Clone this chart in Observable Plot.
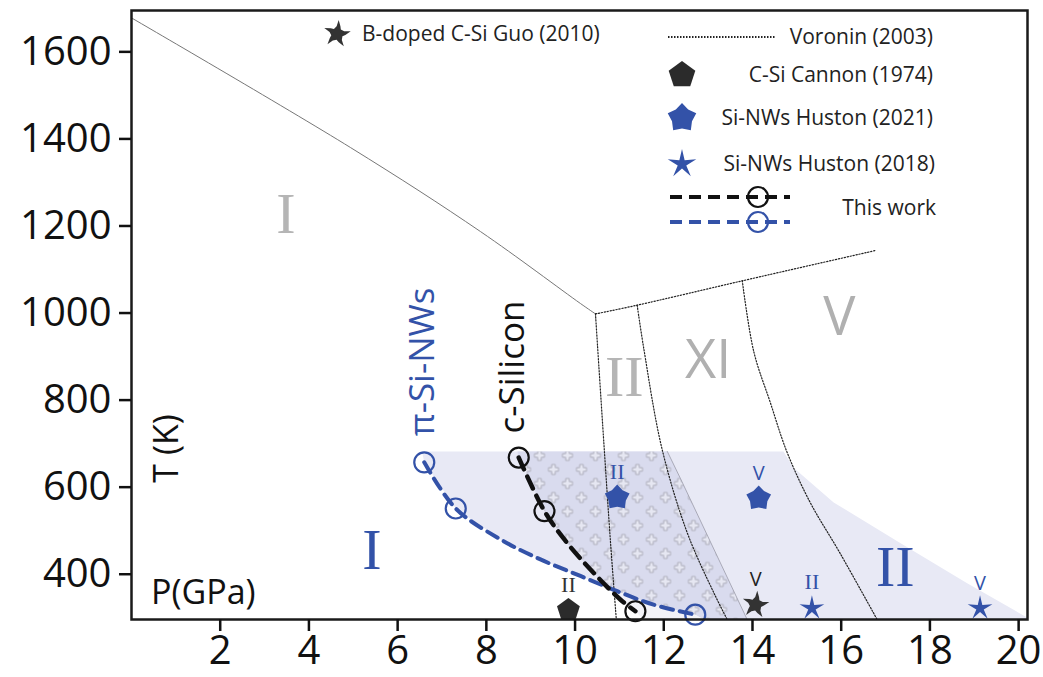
<!DOCTYPE html>
<html><head><meta charset="utf-8">
<script src="https://cdn.jsdelivr.net/npm/d3@7"></script>
<script src="https://cdn.jsdelivr.net/npm/@observablehq/plot@0.6"></script>
<style>
body{margin:0;background:#fff;}
#chart svg{display:block;}
g[aria-label="x-axis tick"] path, g[aria-label="y-axis tick"] path{stroke-width:2.5px;stroke:#111;}
</style>
</head><body>
<svg width="0" height="0" style="position:absolute">
<defs>
<pattern id="plusHatch" width="28" height="28" patternUnits="userSpaceOnUse">
<rect width="28" height="28" fill="#d9dbee"/>
<path d="M5.2,2 h3.6 v3.2 h3.2 v3.6 h-3.2 v3.2 h-3.6 v-3.2 h-3.2 v-3.6 h3.2 z M19.2,16 h3.6 v3.2 h3.2 v3.6 h-3.2 v3.2 h-3.6 v-3.2 h-3.2 v-3.6 h3.2 z" fill="#e6e7f2" stroke="#a8a8b4" stroke-width="0.9"/>
</pattern>
</defs>
</svg>
<div id="chart"></div>
<script>
// ---------- data (P in GPa, T in K) ----------
const xTicks = [2, 4, 6, 8, 10, 12, 14, 16, 18, 20];
const yTicks = [400, 600, 800, 1000, 1200, 1400, 1600];

// Voronin (2003) phase boundaries
const meltLine = [[0, 1678], [4.94, 1380], [7.87, 1187], [10.12, 1022], [10.46, 998]];
const upperLine = [[10.46, 998], [11.40, 1018], [13.77, 1074], [16.79, 1144]];
const boundaryI_II = [[10.46, 998], [10.65, 700], [10.80, 472], [10.93, 296]];
const boundaryII_XI = [[11.40, 1018], [11.55, 918], [11.96, 688], [12.53, 495], [13.13, 357], [13.43, 296]];
const boundaryXI_V = [[13.77, 1074], [14.03, 911], [14.40, 795], [14.78, 680], [15.30, 565], [15.97, 449], [16.81, 296]];

// This work
const piSiNWs = [[6.60, 657], [7.31, 551], [8.32, 480], [9.22, 434], [10.12, 396], [10.95, 361], [11.77, 330], [12.71, 307]];
const piSiNWsPoints = [[6.60, 657], [7.31, 551], [12.71, 307]];
const cSilicon = [[8.73, 668], [9.31, 545], [9.82, 472], [10.42, 403], [11.02, 342], [11.36, 315]];
const cSiliconPoints = [[8.73, 668], [9.31, 545], [11.36, 315]];

// shaded regions
const lightRegion = [[6.55, 682], [14.70, 682], [14.92, 645], [15.83, 565], [17.33, 472], [18.83, 380], [20.2, 300], [20.2, 296], [12.9, 296],
  [12.71, 307], [11.77, 330], [10.95, 361], [10.12, 396], [9.22, 434], [8.32, 480], [7.31, 551], [6.60, 657]];
const hatchRegion = [[8.70, 682], [12.08, 682], [12.38, 619], [13.88, 296], [12.9, 296], [12.71, 307], [11.77, 330], [10.95, 361],
  [10.7, 373], [10.42, 403], [9.82, 472], [9.31, 545], [8.73, 668]];
const paleRegion = [[10.7, 373], [11.02, 342], [11.36, 315], [11.55, 296], [12.9, 296], [12.71, 307], [11.77, 330], [10.95, 361]];

// literature points
const cannon1974 = [{P: 9.85, T: 318, phase: "II"}];
const huston2021 = [{P: 10.95, T: 576, phase: "II"}, {P: 14.14, T: 574, phase: "V"}];
const huston2018 = [{P: 15.34, T: 322, phase: "II"}, {P: 19.13, T: 322, phase: "V"}];
const guo2010 = [{P: 14.07, T: 330, phase: "V"}];

// phase / curve annotations
const greyPhases = [{P: 3.48, T: 1227, text: "I", serif: true}, {P: 11.11, T: 853, text: "II", serif: true},
  {P: 13.0, T: 890, text: "XI", serif: false}, {P: 15.96, T: 989, text: "V", serif: false}];
const bluePhases = [{P: 5.42, T: 454, text: "I"}, {P: 17.22, T: 415, text: "II"}];
const curveLabels = [{P: 6.57, T: 888, text: "π-Si-NWs", blue: true}, {P: 8.59, T: 876, text: "c-Silicon", blue: false}];
const axisLabels = {x: "P(GPa)", y: "T (K)"};
const legendLabels = ["Voronin (2003)", "C-Si Cannon (1974)", "Si-NWs Huston (2021)", "Si-NWs Huston (2018)", "This work"];
const guoLabel = "B-doped C-Si Guo (2010)";

// ---------- styles ----------
const BLUE = "#3352a8";
const SANS = "Open Sans, Noto Sans, sans-serif";
const SERIF = "Liberation Serif, DejaVu Serif, serif";

function polySymbol(n, inner, rot) {
  return {draw(ctx, size) {
    const R = Math.sqrt(size / Math.PI);
    for (let k = 0; k < n; k++) {
      const a = -Math.PI / 2 + k * 2 * Math.PI / n;
      const x = R * Math.cos(a), y = R * Math.sin(a);
      if (k === 0) ctx.moveTo(x, y); else ctx.lineTo(x, y);
      if (inner) { const b = a + rot; ctx.lineTo(inner * R * Math.cos(b), inner * R * Math.sin(b)); }
    }
    ctx.closePath();
  }};
}
const pentagon = polySymbol(5, 0, 0);
const softPentagon = polySymbol(5, 0.7, Math.PI / 5);
const thinStar = polySymbol(5, 0.3, Math.PI / 5);
const pinwheel = {draw(ctx, size) {
  const R = Math.sqrt(size / Math.PI);
  for (let k = 0; k < 5; k++) {
    const a = -Math.PI / 2 + k * 2 * Math.PI / 5;
    const pts = [[0.42 * R, a - 0.55], [0.55 * R, a - 0.05], [R, a + 0.12], [0.6 * R, a + 0.42]];
    pts.forEach(([r, t], i) => {
      const x = r * Math.cos(t), y = r * Math.sin(t);
      if (k === 0 && i === 0) ctx.moveTo(x, y); else ctx.lineTo(x, y);
    });
  }
  ctx.closePath();
}};

const P = d => d[0], T = d => d[1];
const dotted = {stroke: "#222", strokeWidth: 1.2, strokeDasharray: "1.3,1.7", curve: "catmull-rom"};

function legendMark(index, scales, values, dims) {
  const g = d3.create("svg:g");
  const L = dims.marginLeft, R = dims.width - dims.marginRight, Tp = dims.marginTop;
  const sym = (type, r, x, y, fill) => g.append("path")
    .attr("d", d3.symbol().type(type).size(Math.PI * r * r)())
    .attr("transform", `translate(${x},${y})`).attr("fill", fill);
  const txt = (s, x, y, anchor) => g.append("text").text(s).attr("x", x).attr("y", y)
    .attr("dy", "0.35em").attr("text-anchor", anchor).attr("font-size", 21)
    .attr("font-family", SANS).attr("fill", "#222");
  // Guo
  sym(pinwheel, 14, L + 206, Tp + 24, "#333");
  txt(guoLabel, L + 231, Tp + 24, "start");
  // Voronin
  g.append("line").attr("x1", R - 359).attr("x2", R - 251).attr("y1", Tp + 27).attr("y2", Tp + 27)
    .attr("stroke", "#222").attr("stroke-width", 1.8).attr("stroke-dasharray", "1.5,1.5");
  txt(legendLabels[0], R - 94, Tp + 27, "end");
  sym(pentagon, 14, R - 345, Tp + 65, "#2b2b2b");
  txt(legendLabels[1], R - 94, Tp + 65, "end");
  sym(softPentagon, 15, R - 345, Tp + 108, BLUE);
  txt(legendLabels[2], R - 94, Tp + 108, "end");
  sym(thinStar, 15, R - 345, Tp + 154, BLUE);
  txt(legendLabels[3], R - 92, Tp + 154, "end");
  [[Tp + 187, "#111"], [Tp + 212, BLUE]].forEach(([y, c]) => {
    g.append("line").attr("x1", R - 357).attr("x2", R - 237).attr("y1", y).attr("y2", y)
      .attr("stroke", c).attr("stroke-width", 4).attr("stroke-dasharray", "12,7");
    g.append("circle").attr("cx", R - 269).attr("cy", y).attr("r", 10)
      .attr("fill", "none").attr("stroke", c).attr("stroke-width", 2.2);
  });
  txt(legendLabels[4], R - 91, Tp + 198, "end");
  return g.node();
}

const chart = Plot.plot({
  width: 1043,
  height: 677,
  marginLeft: 131,
  marginRight: 16,
  marginTop: 10,
  marginBottom: 58,
  style: {fontFamily: SANS, background: "white", color: "#111"},
  x: {domain: [0, 20.2]},
  y: {domain: [296, 1695]},
  marks: [
    Plot.line(lightRegion, {x: P, y: T, fill: "#e8e9f5", stroke: "none", curve: "linear"}),
    Plot.line(hatchRegion, {x: P, y: T, fill: "url(#plusHatch)", stroke: "none", curve: "linear"}),
    Plot.line(hatchRegion.slice(1, 4), {x: P, y: T, stroke: "#9a9aa8", strokeWidth: 0.8, curve: "linear"}),
    Plot.line(paleRegion, {x: P, y: T, fill: "#f3f3f8", stroke: "none", curve: "linear"}),
    Plot.line(meltLine, {x: P, y: T, stroke: "#777", strokeWidth: 1, curve: "catmull-rom"}),
    Plot.line(upperLine, {x: P, y: T, ...dotted}),
    Plot.line(boundaryI_II, {x: P, y: T, ...dotted}),
    Plot.line(boundaryII_XI, {x: P, y: T, ...dotted}),
    Plot.line(boundaryXI_V, {x: P, y: T, ...dotted}),
    Plot.line(piSiNWs, {x: P, y: T, stroke: BLUE, strokeWidth: 4, strokeDasharray: "12,7", curve: "catmull-rom"}),
    Plot.line(cSilicon, {x: P, y: T, stroke: "#111", strokeWidth: 4.5, strokeDasharray: "13,8", curve: "catmull-rom"}),
    Plot.dot(piSiNWsPoints, {x: P, y: T, r: 10, stroke: BLUE, strokeWidth: 2.2, fill: "none"}),
    Plot.dot(cSiliconPoints, {x: P, y: T, r: 10, stroke: "#111", strokeWidth: 2.2, fill: "none"}),
    Plot.dot(cannon1974, {x: "P", y: "T", r: 12, symbol: pentagon, fill: "#2b2b2b", stroke: "none"}),
    Plot.dot(huston2021, {x: "P", y: "T", r: 13, symbol: softPentagon, fill: BLUE, stroke: "none"}),
    Plot.dot(huston2018, {x: "P", y: "T", r: 13, symbol: thinStar, fill: BLUE, stroke: "none"}),
    Plot.dot(guo2010, {x: "P", y: "T", r: 14, symbol: pinwheel, fill: "#333", stroke: "none"}),
    Plot.text(cannon1974, {x: "P", y: "T", text: "phase", dy: -25, fontSize: 22, fontFamily: SERIF, fill: "#333"}),
    Plot.text(huston2021.concat(huston2018).filter(d => d.phase === "II"), {x: "P", y: "T", text: "phase", dy: -26, fontSize: 22, fontFamily: SERIF, fill: BLUE}),
    Plot.text(huston2021.concat(huston2018).filter(d => d.phase === "V"), {x: "P", y: "T", text: "phase", dy: -25, fontSize: 20, fontFamily: SANS, fill: BLUE}),
    Plot.text(guo2010, {x: "P", y: "T", text: "phase", dy: -25, fontSize: 20, fontFamily: SANS, fill: "#222"}),
    Plot.text(greyPhases.filter(d => d.serif), {x: "P", y: "T", text: "text", fontSize: 58, fontFamily: SERIF, fill: "#b5b5b5"}),
    Plot.text(greyPhases.filter(d => !d.serif), {x: "P", y: "T", text: "text", fontSize: 54, fontFamily: SANS, fill: "#b0b0b0"}),
    Plot.text(bluePhases, {x: "P", y: "T", text: "text", fontSize: 58, fontFamily: SERIF, fill: BLUE}),
    Plot.text(curveLabels, {x: "P", y: "T", text: "text", rotate: -90, fontSize: 35, fill: d => d.blue ? BLUE : "#111"}),
    Plot.text([axisLabels.y], {x: 0.8, y: 689, text: d => d, rotate: -90, fontSize: 34, fill: "#111"}),
    Plot.text([axisLabels.x], {x: 0.44, y: 357, text: d => d, textAnchor: "start", fontSize: 34, fill: "#111"}),
    Plot.frame({stroke: "#1a1a1a", strokeWidth: 2.5}),
    Plot.axisX({ticks: xTicks, tickSize: 12, tickPadding: 4, fontSize: 40, label: null, tickFormat: d => String(d)}),
    Plot.axisY({ticks: yTicks, tickSize: 12, tickPadding: 8, fontSize: 40, label: null, tickFormat: d => String(d)}),
    legendMark
  ]
});
document.getElementById("chart").appendChild(chart);
</script>
</body></html>
